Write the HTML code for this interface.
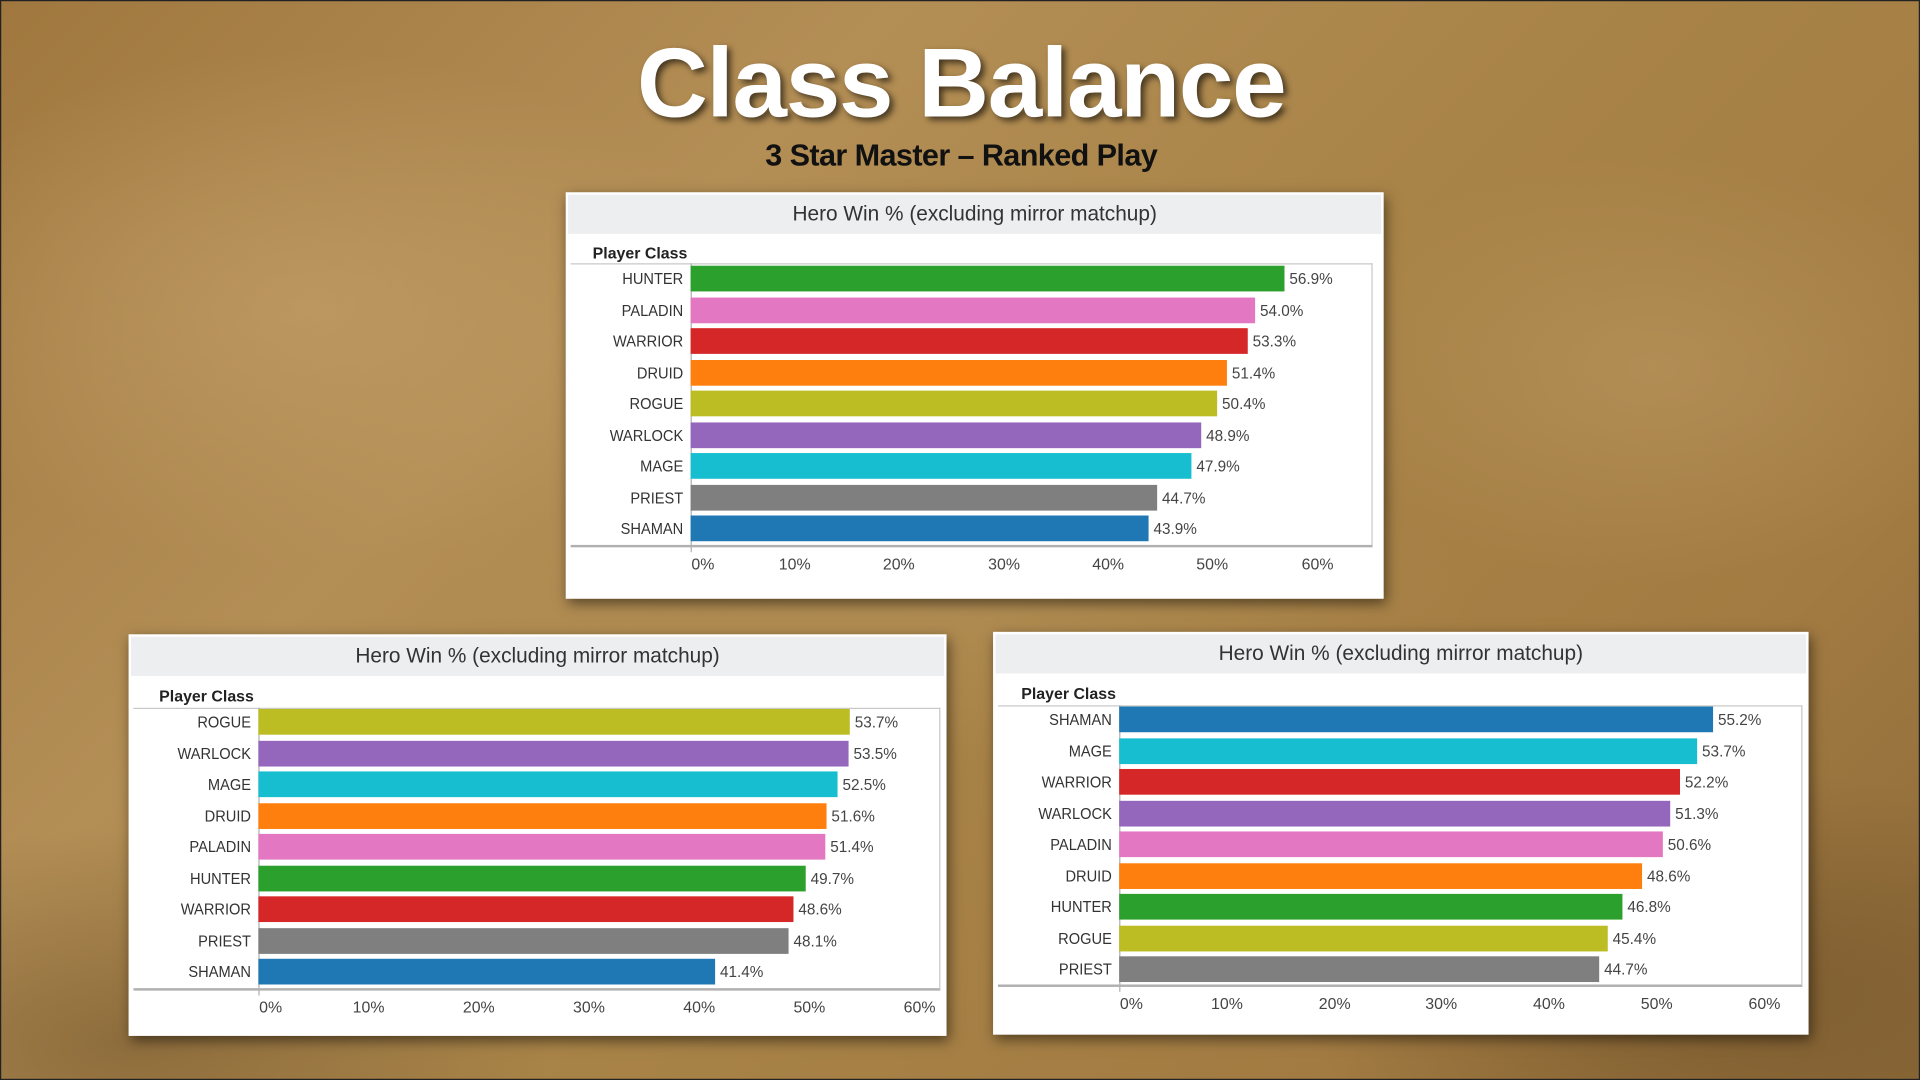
<!DOCTYPE html>
<html><head><meta charset="utf-8"><style>
html,body{margin:0;padding:0;width:1920px;height:1080px;overflow:hidden;background:#9c7a45}
#s{position:absolute;left:0;top:0;width:1568px;height:882px;transform:scale(1.22449);transform-origin:0 0;
background:
radial-gradient(ellipse 500px 300px at 250px 250px,rgba(200,165,110,.55),transparent 70%),
radial-gradient(ellipse 400px 250px at 1350px 300px,rgba(190,155,100,.5),transparent 70%),
radial-gradient(ellipse 600px 200px at 780px 480px,rgba(185,150,95,.45),transparent 70%),
radial-gradient(ellipse 500px 250px at 1400px 800px,rgba(80,55,25,.35),transparent 70%),
radial-gradient(ellipse 500px 250px at 100px 850px,rgba(80,55,25,.35),transparent 70%),
linear-gradient(135deg,#a0783f 0%,#b38e55 30%,#a88347 55%,#a27b42 80%,#8d6a38 100%);
font-family:"Liberation Sans",Arial,sans-serif;border:1px solid #222;box-sizing:border-box}
.t{position:absolute;left:0;width:1568px;text-align:center;font-weight:bold}
.p{position:absolute;background:#fff;box-shadow:2px 4px 10px rgba(0,0,0,.5)}
.tb{position:absolute;left:2px;right:2px;top:2px;height:32px;background:#eceef0;text-align:center;font-size:17px;line-height:32px;color:#333}
.pc{position:absolute;font-size:13px;font-weight:bold;color:#222;line-height:14px}
.fr{position:absolute;border-top:1px solid #c8c8c8;border-right:1px solid #c8c8c8;border-bottom:2px solid #b0b0b0;box-sizing:border-box}
.ax{position:absolute;width:1px;background:#b0b0b0}
.l{position:absolute;font-size:13px;color:#333;text-align:right;width:90px;line-height:14px;transform:scaleX(.92);transform-origin:right}
.b{position:absolute;height:21px}
.v{position:absolute;font-size:12.5px;color:#444;line-height:14px}
.k{position:absolute;font-size:13px;color:#444;width:40px;text-align:center;line-height:14px}
</style></head><body><div id="s">
<div class="t" style="top:22px;font-size:80px;letter-spacing:-1px;color:#fff;text-shadow:3px 3px 5px rgba(0,0,0,.6);line-height:90px;">Class Balance</div>
<div class="t" style="top:111px;font-size:25px;letter-spacing:-0.5px;color:#111;line-height:30px;">3 Star Master – Ranked Play</div>

<!-- TOP PANEL -->
<div class="p" style="left:461px;top:156px;width:668px;height:332px;">
<div class="tb">Hero Win % (excluding mirror matchup)</div>
<div class="pc" style="left:22px;top:43px;">Player Class</div>
<div class="fr" style="left:4px;top:58px;width:655px;height:232px;"></div>
<div class="ax" style="left:102px;top:58px;height:236px;"></div>
<div class="l" style="left:6px;top:64px;">HUNTER</div><div class="b" style="left:102px;top:60px;width:485px;background:#2ca02c"></div><div class="v" style="left:591px;top:64px;">56.9%</div>
<div class="l" style="left:6px;top:90px;">PALADIN</div><div class="b" style="left:102px;top:86px;width:461px;background:#e377c2"></div><div class="v" style="left:567px;top:90px;">54.0%</div>
<div class="l" style="left:6px;top:115px;">WARRIOR</div><div class="b" style="left:102px;top:111px;width:455px;background:#d62728"></div><div class="v" style="left:561px;top:115px;">53.3%</div>
<div class="l" style="left:6px;top:141px;">DRUID</div><div class="b" style="left:102px;top:137px;width:438px;background:#ff7f0e"></div><div class="v" style="left:544px;top:141px;">51.4%</div>
<div class="l" style="left:6px;top:166px;">ROGUE</div><div class="b" style="left:102px;top:162px;width:430px;background:#bcbd22"></div><div class="v" style="left:536px;top:166px;">50.4%</div>
<div class="l" style="left:6px;top:192px;">WARLOCK</div><div class="b" style="left:102px;top:188px;width:417px;background:#9467bd"></div><div class="v" style="left:523px;top:192px;">48.9%</div>
<div class="l" style="left:6px;top:217px;">MAGE</div><div class="b" style="left:102px;top:213px;width:409px;background:#17becf"></div><div class="v" style="left:515px;top:217px;">47.9%</div>
<div class="l" style="left:6px;top:243px;">PRIEST</div><div class="b" style="left:102px;top:239px;width:381px;background:#7f7f7f"></div><div class="v" style="left:487px;top:243px;">44.7%</div>
<div class="l" style="left:6px;top:268px;">SHAMAN</div><div class="b" style="left:102px;top:264px;width:374px;background:#1f77b4"></div><div class="v" style="left:480px;top:268px;">43.9%</div>
<div class="k" style="left:92px;top:297px;">0%</div>
<div class="k" style="left:167px;top:297px;">10%</div>
<div class="k" style="left:252px;top:297px;">20%</div>
<div class="k" style="left:338px;top:297px;">30%</div>
<div class="k" style="left:423px;top:297px;">40%</div>
<div class="k" style="left:508px;top:297px;">50%</div>
<div class="k" style="left:594px;top:297px;">60%</div>
</div>

<!-- BOTTOM LEFT -->
<div class="p" style="left:104px;top:517px;width:668px;height:328px;">
<div class="tb">Hero Win % (excluding mirror matchup)</div>
<div class="pc" style="left:25px;top:44px;">Player Class</div>
<div class="fr" style="left:4px;top:60px;width:659px;height:231px;"></div>
<div class="ax" style="left:106px;top:60px;height:235px;"></div>
<div class="l" style="left:10px;top:65px;">ROGUE</div><div class="b" style="left:106px;top:61px;width:483px;background:#bcbd22"></div><div class="v" style="left:593px;top:65px;">53.7%</div>
<div class="l" style="left:10px;top:91px;">WARLOCK</div><div class="b" style="left:106px;top:87px;width:482px;background:#9467bd"></div><div class="v" style="left:592px;top:91px;">53.5%</div>
<div class="l" style="left:10px;top:116px;">MAGE</div><div class="b" style="left:106px;top:112px;width:473px;background:#17becf"></div><div class="v" style="left:583px;top:116px;">52.5%</div>
<div class="l" style="left:10px;top:142px;">DRUID</div><div class="b" style="left:106px;top:138px;width:464px;background:#ff7f0e"></div><div class="v" style="left:574px;top:142px;">51.6%</div>
<div class="l" style="left:10px;top:167px;">PALADIN</div><div class="b" style="left:106px;top:163px;width:463px;background:#e377c2"></div><div class="v" style="left:573px;top:167px;">51.4%</div>
<div class="l" style="left:10px;top:193px;">HUNTER</div><div class="b" style="left:106px;top:189px;width:447px;background:#2ca02c"></div><div class="v" style="left:557px;top:193px;">49.7%</div>
<div class="l" style="left:10px;top:218px;">WARRIOR</div><div class="b" style="left:106px;top:214px;width:437px;background:#d62728"></div><div class="v" style="left:547px;top:218px;">48.6%</div>
<div class="l" style="left:10px;top:244px;">PRIEST</div><div class="b" style="left:106px;top:240px;width:433px;background:#7f7f7f"></div><div class="v" style="left:543px;top:244px;">48.1%</div>
<div class="l" style="left:10px;top:269px;">SHAMAN</div><div class="b" style="left:106px;top:265px;width:373px;background:#1f77b4"></div><div class="v" style="left:483px;top:269px;">41.4%</div>
<div class="k" style="left:96px;top:298px;">0%</div>
<div class="k" style="left:176px;top:298px;">10%</div>
<div class="k" style="left:266px;top:298px;">20%</div>
<div class="k" style="left:356px;top:298px;">30%</div>
<div class="k" style="left:446px;top:298px;">40%</div>
<div class="k" style="left:536px;top:298px;">50%</div>
<div class="k" style="left:626px;top:298px;">60%</div>
</div>

<!-- BOTTOM RIGHT -->
<div class="p" style="left:810px;top:515px;width:666px;height:329px;">
<div class="tb">Hero Win % (excluding mirror matchup)</div>
<div class="pc" style="left:23px;top:44px;">Player Class</div>
<div class="fr" style="left:4px;top:60px;width:657px;height:230px;"></div>
<div class="ax" style="left:103px;top:60px;height:234px;"></div>
<div class="l" style="left:7px;top:65px;">SHAMAN</div><div class="b" style="left:103px;top:61px;width:485px;background:#1f77b4"></div><div class="v" style="left:592px;top:65px;">55.2%</div>
<div class="l" style="left:7px;top:91px;">MAGE</div><div class="b" style="left:103px;top:87px;width:472px;background:#17becf"></div><div class="v" style="left:579px;top:91px;">53.7%</div>
<div class="l" style="left:7px;top:116px;">WARRIOR</div><div class="b" style="left:103px;top:112px;width:458px;background:#d62728"></div><div class="v" style="left:565px;top:116px;">52.2%</div>
<div class="l" style="left:7px;top:142px;">WARLOCK</div><div class="b" style="left:103px;top:138px;width:450px;background:#9467bd"></div><div class="v" style="left:557px;top:142px;">51.3%</div>
<div class="l" style="left:7px;top:167px;">PALADIN</div><div class="b" style="left:103px;top:163px;width:444px;background:#e377c2"></div><div class="v" style="left:551px;top:167px;">50.6%</div>
<div class="l" style="left:7px;top:193px;">DRUID</div><div class="b" style="left:103px;top:189px;width:427px;background:#ff7f0e"></div><div class="v" style="left:534px;top:193px;">48.6%</div>
<div class="l" style="left:7px;top:218px;">HUNTER</div><div class="b" style="left:103px;top:214px;width:411px;background:#2ca02c"></div><div class="v" style="left:518px;top:218px;">46.8%</div>
<div class="l" style="left:7px;top:244px;">ROGUE</div><div class="b" style="left:103px;top:240px;width:399px;background:#bcbd22"></div><div class="v" style="left:506px;top:244px;">45.4%</div>
<div class="l" style="left:7px;top:269px;">PRIEST</div><div class="b" style="left:103px;top:265px;width:392px;background:#7f7f7f"></div><div class="v" style="left:499px;top:269px;">44.7%</div>
<div class="k" style="left:93px;top:297px;">0%</div>
<div class="k" style="left:171px;top:297px;">10%</div>
<div class="k" style="left:259px;top:297px;">20%</div>
<div class="k" style="left:346px;top:297px;">30%</div>
<div class="k" style="left:434px;top:297px;">40%</div>
<div class="k" style="left:522px;top:297px;">50%</div>
<div class="k" style="left:610px;top:297px;">60%</div>
</div>
</div></body></html>
